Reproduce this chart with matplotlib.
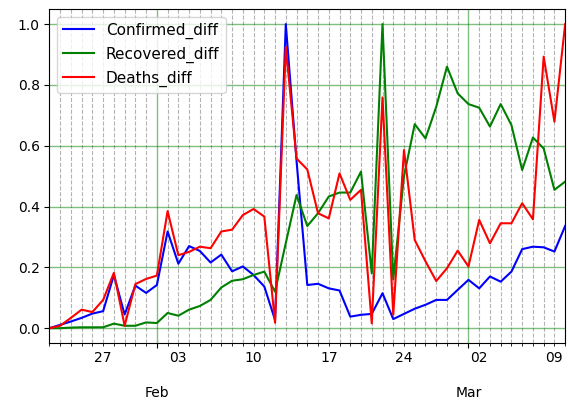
import numpy as np
import pandas as pd
import matplotlib
matplotlib.use('Agg')
import matplotlib.pyplot as plt
import matplotlib.dates as mdates
from matplotlib.ticker import FuncFormatter

# daily values, normalised to max = 1
dates = pd.date_range('2020-01-22', '2020-03-10', freq='D')

confirmed_diff = [0.0, 0.011, 0.022, 0.034, 0.048, 0.056, 0.175, 0.045, 0.14, 0.116,
                  0.142, 0.318, 0.212, 0.27, 0.254, 0.216, 0.242, 0.187, 0.203, 0.175,
                  0.137, 0.027, 1.0, 0.55, 0.142, 0.146, 0.131, 0.124, 0.038, 0.044,
                  0.047, 0.115, 0.03, 0.047, 0.064, 0.077, 0.093, 0.093, 0.126, 0.159,
                  0.131, 0.17, 0.153, 0.186, 0.26, 0.268, 0.266, 0.252, 0.336]
recovered_diff = [0.0, 0.0, 0.002, 0.003, 0.003, 0.003, 0.015, 0.008, 0.008, 0.019,
                  0.017, 0.05, 0.041, 0.061, 0.073, 0.093, 0.134, 0.156, 0.161, 0.175,
                  0.186, 0.12, 0.28, 0.438, 0.336, 0.378, 0.433, 0.446, 0.446, 0.515,
                  0.18, 1.0, 0.16, 0.5, 0.671, 0.624, 0.728, 0.86, 0.772, 0.737,
                  0.725, 0.663, 0.737, 0.668, 0.52, 0.627, 0.591, 0.455, 0.482]
deaths_diff = [0.0, 0.008, 0.034, 0.061, 0.053, 0.093, 0.182, 0.008, 0.145, 0.162,
               0.173, 0.385, 0.24, 0.251, 0.268, 0.263, 0.318, 0.324, 0.372, 0.392,
               0.367, 0.018, 0.925, 0.558, 0.522, 0.378, 0.361, 0.509, 0.422, 0.455,
               0.016, 0.759, 0.044, 0.586, 0.29, 0.22, 0.155, 0.197, 0.255, 0.203,
               0.356, 0.279, 0.345, 0.345, 0.411, 0.358, 0.893, 0.679, 1.0]

fig = plt.figure(figsize=(5.68, 4.04), dpi=100)
ax = fig.add_subplot(111)
fig.subplots_adjust(left=0.087, right=0.995, top=0.978, bottom=0.15)

ax.plot(dates, confirmed_diff, color='b', label='Confirmed_diff')
ax.plot(dates, recovered_diff, color='g', label='Recovered_diff')
ax.plot(dates, deaths_diff, color='r', label='Deaths_diff')

ax.set_xlim(dates[0], dates[-1])
ax.set_ylim(-0.05, 1.05)

# month starts as major ticks, every day as minor, day number on mondays
ax.xaxis.set_major_locator(mdates.MonthLocator())
ax.xaxis.set_major_formatter(mdates.DateFormatter('\n\n%b'))
ax.xaxis.set_minor_locator(mdates.DayLocator())

def day_label(x, pos):
    d = mdates.num2date(x)
    return d.strftime('%d') if d.weekday() == 0 else ''

ax.xaxis.set_minor_formatter(FuncFormatter(day_label))

ax.grid(which='major', color='g', alpha=0.5, linewidth=1)
ax.grid(which='minor', axis='x', linestyle='--', color='gray', alpha=0.6)

ax.legend(loc='upper left', fontsize=11)

plt.savefig('out.png', dpi=100)
